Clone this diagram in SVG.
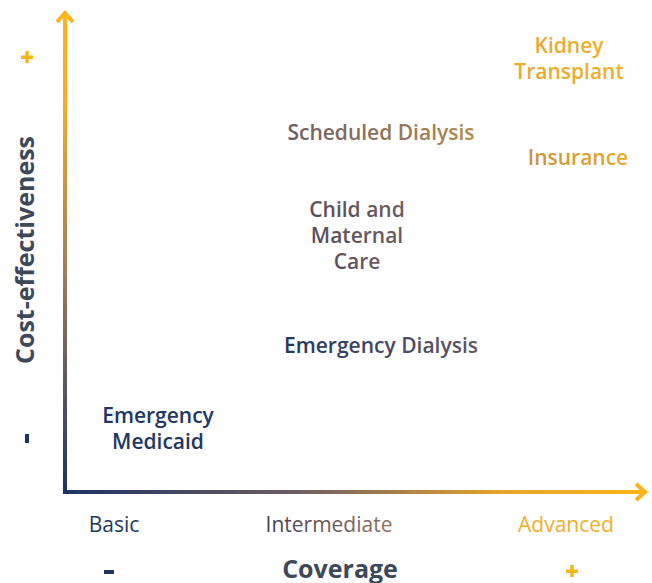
<svg xmlns="http://www.w3.org/2000/svg" width="652" height="583" viewBox="0 0 652 583">
  <defs>
    <!-- axis gradients: navy at the origin, gold toward the arrow tips -->
    <linearGradient id="gradY" gradientUnits="userSpaceOnUse" x1="0" y1="492" x2="0" y2="10">
      <stop offset="0" stop-color="#1d3461"/>
      <stop offset="0.45" stop-color="#9c7d5c"/>
      <stop offset="0.8" stop-color="#f2ad22"/>
      <stop offset="1" stop-color="#fbb419"/>
    </linearGradient>
    <linearGradient id="gradX" gradientUnits="userSpaceOnUse" x1="65" y1="0" x2="648" y2="0">
      <stop offset="0" stop-color="#1d3461"/>
      <stop offset="0.4" stop-color="#6e5e64"/>
      <stop offset="0.75" stop-color="#e6a62c"/>
      <stop offset="1" stop-color="#fbb419"/>
    </linearGradient>
    <!-- label fills -->
    <linearGradient id="gKidney" x1="0" y1="1" x2="1" y2="0">
      <stop offset="0" stop-color="#e2a53a"/>
      <stop offset="1" stop-color="#f8b41e"/>
    </linearGradient>
    <linearGradient id="gIns" x1="0" y1="0" x2="1" y2="0">
      <stop offset="0" stop-color="#c9913f"/>
      <stop offset="1" stop-color="#eaaa2c"/>
    </linearGradient>
    <linearGradient id="gSched" x1="0" y1="0" x2="1" y2="0">
      <stop offset="0" stop-color="#6b5d62"/>
      <stop offset="1" stop-color="#b38a4f"/>
    </linearGradient>
    <linearGradient id="gChild" x1="0" y1="1" x2="1" y2="0">
      <stop offset="0" stop-color="#4d4859"/>
      <stop offset="1" stop-color="#7a6560"/>
    </linearGradient>
    <linearGradient id="gEmDial" x1="0" y1="0" x2="1" y2="0">
      <stop offset="0" stop-color="#233760"/>
      <stop offset="1" stop-color="#645762"/>
    </linearGradient>
    <linearGradient id="gInter" x1="0" y1="0" x2="1" y2="0">
      <stop offset="0" stop-color="#483f50"/>
      <stop offset="1" stop-color="#8f7462"/>
    </linearGradient>
    <style>
      .lbl { font-family: "Open Sans", "Noto Sans", "DejaVu Sans", sans-serif; font-weight: 600; font-size: 21px; text-anchor: middle; }
      .tick { font-family: "Open Sans", "Noto Sans", "DejaVu Sans", sans-serif; font-weight: 400; font-size: 21px; text-anchor: middle; }
      .title { font-family: "Open Sans", "Noto Sans", "DejaVu Sans", sans-serif; font-weight: 700; fill: #3d4959; text-anchor: middle; font-size: 25px; }
      .axis { fill: none; stroke-width: 4; stroke-linecap: butt; stroke-linejoin: miter; }
    </style>
  </defs>

  <!-- axes -->
  <g id="connectors">
    <path class="axis" stroke="url(#gradY)" d="M65 494 V13"/>
    <path class="axis" stroke="url(#gradY)" d="M57 22 L65 13 L73 22"/>
    <path class="axis" stroke="url(#gradX)" d="M63 492 H645"/>
    <path class="axis" stroke="url(#gradX)" d="M636 484 L645 492 L636 500"/>
  </g>

  <!-- axis titles and end marks -->
  <g id="axis-labels">
    <text class="title" transform="translate(34 250) rotate(-90)">Cost-effectiveness</text>
    <text class="title" x="340" y="578">Coverage</text>
    <rect x="21" y="55.5" width="12" height="3.5" fill="#f9b41c"/>
    <rect x="25.25" y="51" width="3.5" height="12" fill="#f9b41c"/>
    <rect x="25" y="434" width="4" height="9" fill="#1f3561"/>
    <rect x="104" y="570" width="10" height="4" fill="#1f3561"/>
    <rect x="566" y="569.5" width="12" height="3.5" fill="#f9b41c"/>
    <rect x="570.25" y="565" width="3.5" height="12" fill="#f9b41c"/>
  </g>

  <!-- coverage levels -->
  <g id="tick-basic"><text class="tick" x="114" y="532" fill="#23395f">Basic</text></g>
  <g id="tick-intermediate"><text class="tick" x="329" y="532" fill="url(#gInter)">Intermediate</text></g>
  <g id="tick-advanced"><text class="tick" x="566" y="532" fill="#f1ae2c">Advanced</text></g>

  <!-- programs -->
  <g id="node-kidney-transplant">
    <text class="lbl" x="569" y="53" fill="url(#gKidney)">Kidney</text>
    <text class="lbl" x="569" y="79" fill="url(#gKidney)">Transplant</text>
  </g>
  <g id="node-scheduled-dialysis">
    <text class="lbl" x="381" y="140" fill="url(#gSched)">Scheduled Dialysis</text>
  </g>
  <g id="node-insurance">
    <text class="lbl" x="578" y="165" fill="url(#gIns)">Insurance</text>
  </g>
  <g id="node-child-maternal-care">
    <text class="lbl" x="357" y="217" fill="url(#gChild)">Child and</text>
    <text class="lbl" x="357" y="243" fill="url(#gChild)">Maternal</text>
    <text class="lbl" x="357" y="269" fill="url(#gChild)">Care</text>
  </g>
  <g id="node-emergency-dialysis">
    <text class="lbl" x="381" y="353" fill="url(#gEmDial)">Emergency Dialysis</text>
  </g>
  <g id="node-emergency-medicaid">
    <text class="lbl" x="158" y="423" fill="#22375f">Emergency</text>
    <text class="lbl" x="158" y="449" fill="#22375f">Medicaid</text>
  </g>
</svg>
